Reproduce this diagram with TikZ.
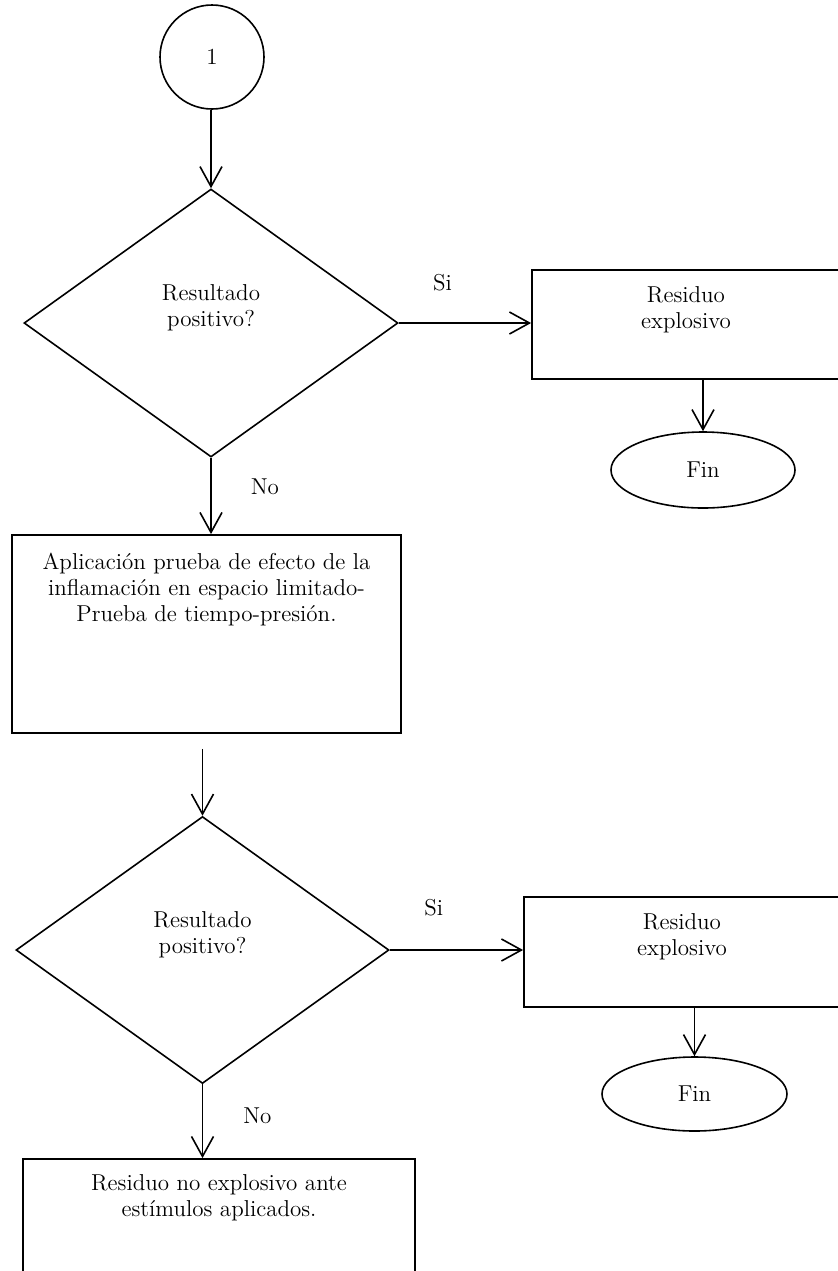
\documentclass[tikz,border=0pt]{standalone}
\usepackage{tikz}
\usetikzlibrary{arrows.meta,shapes.geometric}
\tikzset{
  texto/.style={font=\fontsize{11.5}{12.8}\selectfont,align=center,inner sep=0pt},
  caja/.style={draw,line width=0.9pt,inner sep=0pt},
  rombo/.style={diamond,draw,line width=0.8pt,inner sep=0pt},
  elipse/.style={ellipse,draw,line width=0.8pt,texto},
  circulo/.style={circle,draw,line width=0.8pt,texto},
  flecha/.style={-{Straight Barb[length=10pt,width=11pt]},line width=0.8pt},
  etiqueta/.style={texto},
}
\begin{document}
\begin{tikzpicture}[x=0.5pt,y=-0.5pt]
  \useasboundingbox (0,0) rectangle (838,1271);
  \node[circulo,minimum size=52pt] (inicio) at (212,57) {1};
  \node[rombo,minimum width=187pt,minimum height=134pt,
        label={[texto,yshift=7.5pt]center:{Resultado\\positivo?}}] (preg1) at (211,323) {};
  \node[caja,minimum width=154pt,minimum height=54.5pt,
        label={[texto,anchor=north,yshift=-8.5pt]north:{Residuo\\explosivo}}] (caja1) at (686,324.5) {};
  \node[elipse,minimum width=92pt,minimum height=38pt] (fin1) at (703,470) {Fin};
  \node[caja,minimum width=194.5pt,minimum height=99pt,
        label={[texto,anchor=north,yshift=-9.5pt]north:{Aplicación prueba de efecto de la\\
          inflamación en espacio limitado-\\Prueba de tiempo-presión.}}] (caja2) at (206.5,634) {};
  \node[rombo,minimum width=186.5pt,minimum height=133.5pt,
        label={[texto,yshift=7.5pt]center:{Resultado\\positivo?}}] (preg2) at (202.5,950) {};
  \node[caja,minimum width=158pt,minimum height=55pt,
        label={[texto,anchor=north,yshift=-8.5pt]north:{Residuo\\explosivo}}] (caja3) at (682,952) {};
  \node[elipse,minimum width=92.5pt,minimum height=37pt] (fin2) at (694.5,1094) {Fin};
  \node[caja,minimum width=196pt,minimum height=100pt,
        label={[texto,anchor=north,yshift=-8pt]north:{Residuo no explosivo ante\\estímulos aplicados.}}] (caja4) at (219,1259) {};

  \draw[flecha] (preg1.north |- inicio.south) -- (preg1.north);
  \draw[flecha] (preg1.east) -- node[etiqueta,pos=0.33,above=15.7pt] {Si} (preg1.east -| caja1.west);
  \draw[flecha] (fin1.north |- caja1.south) -- (fin1.north);
  \draw[flecha] (preg1.south) -- node[etiqueta,pos=0.38,right=19.5pt] {No} (preg1.south |- caja2.north);
  \draw[flecha,shorten <=7.5pt] (preg2.north |- caja2.south) -- (preg2.north);
  \draw[flecha] (preg2.east) -- node[etiqueta,pos=0.33,above=16.7pt] {Si} (preg2.east -| caja3.west);
  \draw[flecha] (fin2.north |- caja3.south) -- (fin2.north);
  \draw[flecha] (preg2.south) -- node[etiqueta,pos=0.42,right=20pt] {No} (preg2.south |- caja4.north);
\end{tikzpicture}
\end{document}
